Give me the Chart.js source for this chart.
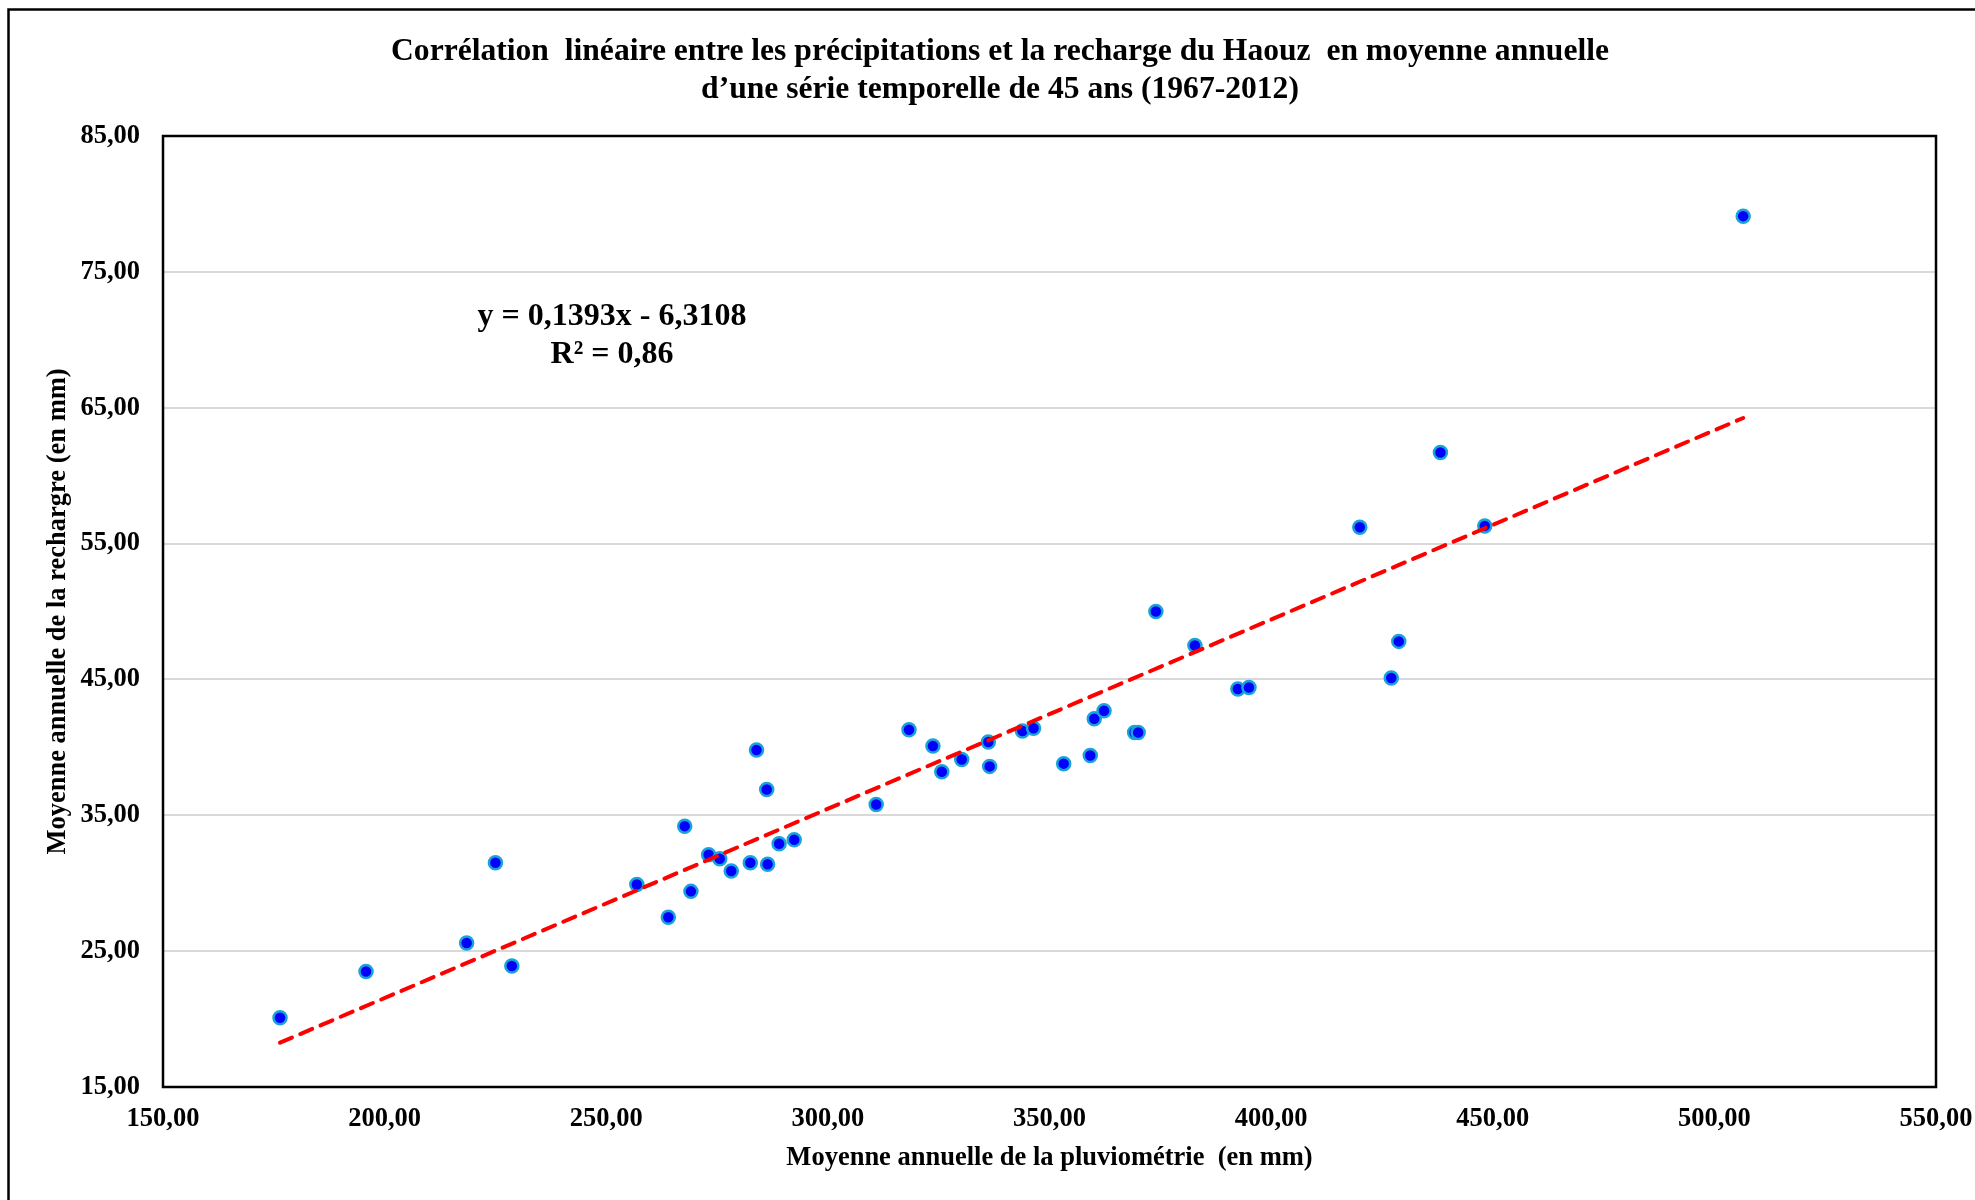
<!DOCTYPE html>
<html><head><meta charset="utf-8">
<script src="https://cdn.jsdelivr.net/npm/chart.js@4.4.1/dist/chart.umd.min.js"></script>
<style>html,body{margin:0;padding:0;background:#fff;overflow:hidden}#wrap{width:1975px;height:1200px;position:relative}canvas{display:block}</style>
</head><body><div id="wrap"><canvas id="c" width="1975" height="1200"></canvas></div>
<script>
// ---- data ----
const rainfall = [176.4,195.8,218.5,225.0,228.7,256.9,264.0,267.7,269.1,273.1,275.6,278.2,282.5,283.9,286.2,286.4,289.0,292.4,310.9,318.3,323.7,325.7,330.2,336.2,336.5,343.9,346.4,353.2,359.2,360.1,362.3,369.2,370.0,374.0,382.8,392.5,395.0,420.0,427.1,428.8,438.2,448.2,506.5];
const recharge = [20.1,23.5,25.6,31.5,23.9,29.9,27.5,34.2,29.4,32.1,31.8,30.9,31.5,39.8,36.9,31.4,32.9,33.2,35.8,41.3,40.1,38.2,39.1,40.4,38.6,41.2,41.4,38.8,39.4,42.1,42.7,41.1,41.1,50.0,47.5,44.3,44.4,56.2,45.1,47.8,61.7,56.3,79.1];
const trendSlope = 0.1393;
const trendIntercept = -6.3108;
const rSquared = 0.86;
const xTicks = [150,200,250,300,350,400,450,500,550];
const yTicks = [15,25,35,45,55,65,75,85];
const titleLines = ["Corrélation  linéaire entre les précipitations et la recharge du Haouz  en moyenne annuelle", "d’une série temporelle de 45 ans (1967-2012)"];
const xTitle = "Moyenne annuelle de la pluviométrie  (en mm)";
const yTitle = "Moyenne annuelle de la rechargre (en mm)";

const FONT = "'Liberation Serif', 'Times New Roman', serif";
const fr = (v, d) => v.toFixed(d).replace('.', ',');

const points = rainfall.map((x, i) => ({x: x, y: recharge[i]}));
const xMin = Math.min(...rainfall), xMax = Math.max(...rainfall);
const trend = [xMin, xMax].map(x => ({x: x, y: trendSlope * x + trendIntercept}));
const eqText = `y = ${fr(trendSlope,4)}x ${trendIntercept < 0 ? '-' : '+'} ${fr(Math.abs(trendIntercept),4)}`;
const r2Text = `R² = ${fr(rSquared,2)}`;

const decor = {
  id: 'decor',
  beforeDraw(chart) {
    const ctx = chart.ctx;
    ctx.save();
    ctx.fillStyle = '#fff';
    ctx.fillRect(0, 0, chart.width, chart.height);
    ctx.restore();
  },
  beforeDatasetsDraw(chart) {
    const {ctx, chartArea: a} = chart;
    ctx.save();
    ctx.strokeStyle = '#000';
    ctx.lineWidth = 2.5;
    ctx.strokeRect(a.left, a.top, a.right - a.left, a.bottom - a.top);
    ctx.restore();
  },
  afterDraw(chart) {
    const {ctx, chartArea: a} = chart;
    ctx.save();
    // outer frame
    ctx.strokeStyle = '#000';
    ctx.lineWidth = 2.5;
    ctx.beginPath();
    ctx.moveTo(8.5, chart.height + 5);
    ctx.lineTo(8.5, 9.5);
    ctx.lineTo(chart.width + 5, 9.5);
    ctx.stroke();
    ctx.fillStyle = '#000';
    ctx.textAlign = 'center';
    ctx.textBaseline = 'middle';
    // title
    ctx.font = `bold 31.6px ${FONT}`;
    ctx.fillText(titleLines[0], 1000, 51.5);
    ctx.fillText(titleLines[1], 1000, 89.5);
    // axis titles
    ctx.font = `bold 26.5px ${FONT}`;
    ctx.fillText(xTitle, (a.left + a.right) / 2, 1158);
    ctx.save();
    ctx.translate(58, (a.top + a.bottom) / 2);
    ctx.rotate(-Math.PI / 2);
    ctx.fillText(yTitle, 0, 0);
    ctx.restore();
    // equation
    ctx.font = `bold 32px ${FONT}`;
    ctx.fillText(eqText, 612, 317);
    ctx.fillText(r2Text, 612, 355);
    ctx.restore();
  }
};

new Chart(document.getElementById('c'), {
  type: 'scatter',
  data: {
    datasets: [
      {
        label: 'Tendance',
        data: trend,
        showLine: true,
        borderColor: '#FF0000',
        borderWidth: 4,
        borderDash: [13, 9],
        borderCapStyle: 'round',
        pointRadius: 0,
        fill: false,
        order: 0
      },
      {
        label: 'Recharge',
        data: points,
        backgroundColor: '#0000FF',
        borderColor: '#1AA3D6',
        borderWidth: 2.5,
        pointRadius: 6.5,
        order: 1
      }
    ]
  },
  options: {
    responsive: false,
    devicePixelRatio: 1,
    animation: false,
    layout: {padding: {left: 0, right: 39, top: 136, bottom: 0}},
    plugins: {legend: {display: false}, tooltip: {enabled: false}, title: {display: false}},
    scales: {
      x: {
        type: 'linear',
        min: xTicks[0], max: xTicks[xTicks.length - 1],
        afterBuildTicks: s => { s.ticks = xTicks.map(v => ({value: v})); },
        afterFit: s => { s.height = 113; s.paddingLeft = 0; s.paddingRight = 0; },
        ticks: {
          callback: v => fr(v, 2),
          font: {family: FONT, size: 26.5, weight: 'bold'},
          color: '#000', padding: 16, maxRotation: 0, autoSkip: false
        },
        grid: {display: false, drawTicks: false},
        border: {display: false}
      },
      y: {
        type: 'linear',
        min: yTicks[0], max: yTicks[yTicks.length - 1],
        afterBuildTicks: s => { s.ticks = yTicks.map(v => ({value: v})); },
        afterFit: s => { s.width = 163; s.paddingTop = 0; s.paddingBottom = 0; },
        ticks: {
          callback: v => fr(v, 2),
          font: {family: FONT, size: 26.5, weight: 'bold'},
          color: '#000', padding: 23, autoSkip: false
        },
        grid: {color: '#D9D9D9', lineWidth: 2, drawTicks: false},
        border: {display: false}
      }
    }
  },
  plugins: [decor]
});
</script>
</body></html>
